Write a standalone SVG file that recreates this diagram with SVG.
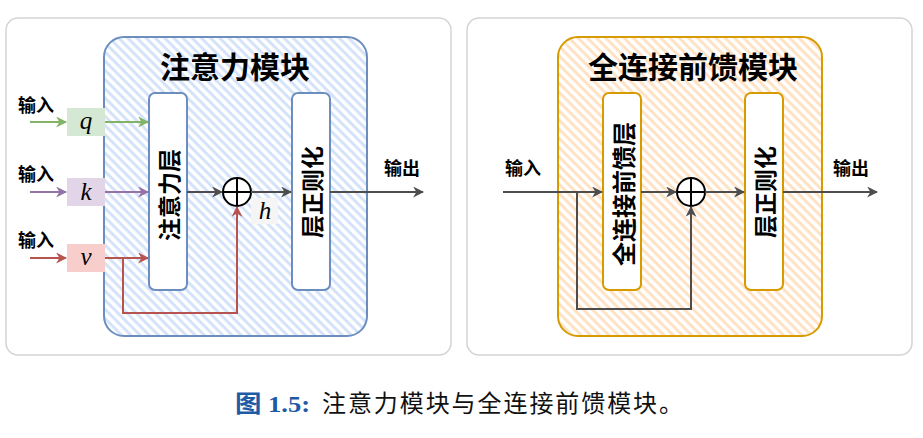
<svg xmlns="http://www.w3.org/2000/svg" width="923" height="438" viewBox="0 0 923 438">
<defs>
<pattern id="hb" patternUnits="userSpaceOnUse" width="6.5" height="6.5" patternTransform="rotate(45)">
<rect width="6.5" height="6.5" fill="#ffffff"/>
<rect width="6.5" height="3" fill="#d4e3fa"/>
</pattern>
<pattern id="ho" patternUnits="userSpaceOnUse" width="6.5" height="6.5" patternTransform="rotate(45)">
<rect width="6.5" height="6.5" fill="#ffffff"/>
<rect width="6.5" height="3" fill="#ffe2c4"/>
</pattern>
<marker id="aG" viewBox="0 0 10 10" refX="9" refY="5" markerWidth="5.5" markerHeight="5.5" orient="auto" markerUnits="strokeWidth"><path d="M0,0 L10,5 L0,10 L3,5 z" fill="#4d4d4d"/></marker>
<marker id="aGr" viewBox="0 0 10 10" refX="9" refY="5" markerWidth="5.5" markerHeight="5.5" orient="auto" markerUnits="strokeWidth"><path d="M0,0 L10,5 L0,10 L3,5 z" fill="#82b366"/></marker>
<marker id="aP" viewBox="0 0 10 10" refX="9" refY="5" markerWidth="5.5" markerHeight="5.5" orient="auto" markerUnits="strokeWidth"><path d="M0,0 L10,5 L0,10 L3,5 z" fill="#9673a6"/></marker>
<marker id="aR" viewBox="0 0 10 10" refX="9" refY="5" markerWidth="5.5" markerHeight="5.5" orient="auto" markerUnits="strokeWidth"><path d="M0,0 L10,5 L0,10 L3,5 z" fill="#b85450"/></marker>
</defs>
<style>
.panel{fill:#ffffff;stroke:#d3d3d3;stroke-width:1.5}
.cjk{font-family:"Noto Sans CJK SC","Noto Sans",sans-serif;font-weight:bold;fill:#000}
.lbl{font-size:18px}
.title{font-size:30px;text-anchor:middle}
.vt{font-size:23px;text-anchor:middle;dominant-baseline:central}
.layer{fill:#ffffff;stroke-width:2}
.math{font-family:"Liberation Serif","DejaVu Serif",serif;font-style:italic;font-size:25px;text-anchor:middle}
.ln{fill:none;stroke-width:2}
.g{stroke:#4d4d4d}
</style>

<rect class="panel" x="6" y="18" width="445" height="337" rx="12"/>
<rect class="panel" x="467" y="18" width="445" height="337" rx="12"/>

<g id="attention-block">
<rect x="104" y="37" width="263" height="299" rx="20" fill="url(#hb)" stroke="#6c8ebf" stroke-width="2"/>
<text class="cjk title" x="235" y="78">注意力模块</text>
</g>
<g id="attn-layer">
<rect class="layer" x="149" y="93" width="38" height="197" rx="6" stroke="#6c8ebf"/>
<text class="cjk vt" transform="translate(168,195) rotate(-90)">注意力层</text>
</g>
<g id="attn-norm">
<rect class="layer" x="292" y="93" width="38" height="197" rx="6" stroke="#6c8ebf"/>
<text class="cjk vt" transform="translate(311,192) rotate(-90)">层正则化</text>
</g>
<g id="q-node">
<rect x="67" y="108" width="38" height="28" fill="#d5e8d4"/>
<text class="math" x="86" y="129">q</text>
</g>
<g id="k-node">
<rect x="67" y="178" width="38" height="28" fill="#e1d5e7"/>
<text class="math" x="86" y="200">k</text>
</g>
<g id="v-node">
<rect x="67" y="244" width="38" height="28" fill="#f8cecc"/>
<text class="math" x="86" y="265">v</text>
</g>
<g id="attn-add">
<circle cx="237" cy="192" r="14" fill="#ffffff" stroke="#000" stroke-width="2"/>
<path d="M223,192 H251 M237,178 V206" stroke="#000" stroke-width="2"/>
</g>
<g id="h-label">
<rect x="251" y="198" width="27" height="26" fill="#f5f5f5"/>
<text class="math" x="265" y="219">h</text>
</g>
<g id="attn-labels">
<text class="cjk lbl" x="18" y="112">输入</text>
<text class="cjk lbl" x="18" y="181">输入</text>
<text class="cjk lbl" x="18" y="247">输入</text>
<text class="cjk lbl" x="384" y="175">输出</text>
</g>

<g id="ffn-block">
<rect x="558" y="37" width="264" height="299" rx="20" fill="url(#ho)" stroke="#d79b00" stroke-width="2"/>
<text class="cjk title" x="693" y="78">全连接前馈模块</text>
</g>
<g id="ffn-layer">
<rect class="layer" x="603" y="93" width="38" height="197" rx="6" stroke="#d79b00"/>
<text class="cjk vt" transform="translate(622,194) rotate(-90)" style="font-size:24px">全连接前馈层</text>
</g>
<g id="ffn-norm">
<rect class="layer" x="745" y="93" width="38" height="197" rx="6" stroke="#d79b00"/>
<text class="cjk vt" transform="translate(764,192) rotate(-90)">层正则化</text>
</g>
<g id="ffn-add">
<circle cx="691" cy="192" r="14" fill="#ffffff" stroke="#000" stroke-width="2"/>
<path d="M677,192 H705 M691,178 V206" stroke="#000" stroke-width="2"/>
</g>
<g id="ffn-labels">
<text class="cjk lbl" x="505" y="175">输入</text>
<text class="cjk lbl" x="833" y="175">输出</text>
</g>

<g id="connectors">
<path class="ln" d="M30,122 H66" stroke="#82b366" marker-end="url(#aGr)"/>
<path class="ln" d="M105,122 H148" stroke="#82b366" marker-end="url(#aGr)"/>
<path class="ln" d="M30,192 H66" stroke="#9673a6" marker-end="url(#aP)"/>
<path class="ln" d="M105,192 H148" stroke="#9673a6" marker-end="url(#aP)"/>
<path class="ln" d="M30,258 H66" stroke="#b85450" marker-end="url(#aR)"/>
<path class="ln" d="M105,258 H148" stroke="#b85450" marker-end="url(#aR)"/>
<path class="ln" d="M123,258 V313 H237 V207" stroke="#b85450" marker-end="url(#aR)"/>
<path class="ln g" d="M187,192 H222" marker-end="url(#aG)"/>
<path class="ln g" d="M251,192 H291" marker-end="url(#aG)"/>
<path class="ln g" d="M330,192 H423" marker-end="url(#aG)"/>
<path class="ln g" d="M503,192 H602" marker-end="url(#aG)"/>
<path class="ln g" d="M577,192 V309 H691 V207" marker-end="url(#aG)"/>
<path class="ln g" d="M641,192 H676" marker-end="url(#aG)"/>
<path class="ln g" d="M705,192 H744" marker-end="url(#aG)"/>
<path class="ln g" d="M783,192 H877" marker-end="url(#aG)"/>
</g>

<g id="caption">
<text x="235" y="412" textLength="75" lengthAdjust="spacingAndGlyphs" style="font-family:'Liberation Serif','Noto Sans CJK SC',serif;font-weight:bold;font-size:24px;fill:#1f5aa6"><tspan style="font-family:'Noto Sans CJK SC',sans-serif">图</tspan> 1.5:</text>
<text x="322" y="412" textLength="361" lengthAdjust="spacing" style="font-family:'Noto Sans CJK SC',sans-serif;font-size:24px;fill:#111">注意力模块与全连接前馈模块。</text>
</g>
</svg>
